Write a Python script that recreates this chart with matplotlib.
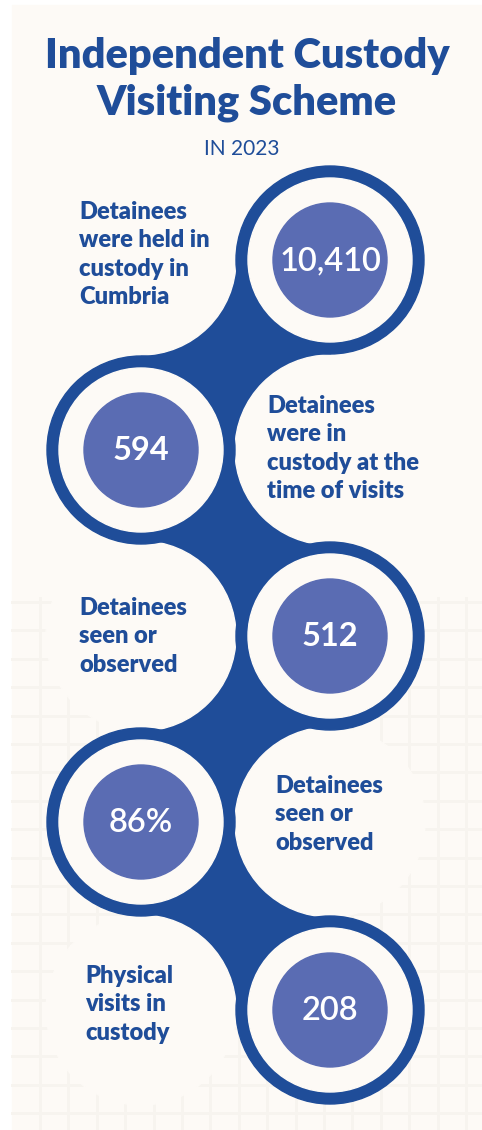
import numpy as np
import matplotlib
matplotlib.use("Agg")
import matplotlib.pyplot as plt
from matplotlib.patches import Circle, Rectangle

# ---------------------------------------------------------------------------
# Data
# ---------------------------------------------------------------------------
title_lines = ["Independent Custody", "Visiting Scheme"]
subtitle = "IN 2023"
values = ["10,410", "594", "512", "86%", "208"]
value_weights = ["semibold", "bold", "bold", "semibold", "semibold"]
labels = [
    "Detainees\nwere held in\ncustody in\nCumbria",
    "Detainees\nwere in\ncustody at the\ntime of visits",
    "Detainees\nseen or\nobserved",
    "Detainees\nseen or\nobserved",
    "Physical\nvisits in\ncustody",
]

# ---------------------------------------------------------------------------
# Style
# ---------------------------------------------------------------------------
W, H = 482, 1130
BG = "#fdfaf6"
BLUE = "#1f4d99"
FILL = "#5a6cb3"
GRID = "#f7f4ef"
FONT = ["Lato", "DejaVu Sans"]

col_x = [330, 141]          # right column, left column
row_y = [260, 450, 636, 822, 1010]
R_OUT, R_WHITE, R_FILL = 94, 82, 57

fig = plt.figure(figsize=(W / 100, H / 100), dpi=100)
ax = fig.add_axes([0, 0, 1, 1])
ax.set_xlim(0, W)
ax.set_ylim(H, 0)
ax.axis("off")
fig.patch.set_facecolor("white")

# card background
ax.add_patch(Rectangle((12, 5), W - 12, H - 5, color=BG, zorder=0))

# faint grid on the lower half
step = 28.4
for gx in np.arange(12 + 28, W, step):
    ax.plot([gx, gx], [598, H], color=GRID, lw=0.8, zorder=0.5,
            antialiased=False)
for gy in np.arange(602, H, step):
    ax.plot([12, W], [gy, gy], color=GRID, lw=0.8, zorder=0.5,
            antialiased=False)

# connectors: rectangle between consecutive centres, carved by fillet circles
centres = [(col_x[i % 2], row_y[i]) for i in range(len(values))]
for i in range(len(centres) - 1):
    (x0, y0), (x1, y1) = centres[i], centres[i + 1]
    ax.add_patch(Rectangle((min(x0, x1), y0), abs(x1 - x0), y1 - y0,
                           color=BLUE, zorder=1))
gap = abs(col_x[0] - col_x[1])
for i in range(len(centres)):
    fx = col_x[(i + 1) % 2]
    ax.add_patch(Circle((fx, row_y[i]), gap - R_OUT, color=BG, zorder=2))

# circles
for (cx, cy), v, w in zip(centres, values, value_weights):
    ax.add_patch(Circle((cx, cy), R_OUT, color=BLUE, zorder=3))
    ax.add_patch(Circle((cx, cy), R_WHITE, color=BG, zorder=4))
    ax.add_patch(Circle((cx, cy), R_FILL, color=FILL, zorder=5))
    ax.text(cx, cy + 1, v, color="white", fontsize=23.5, fontweight=w,
            ha="center", va="center", family=FONT, zorder=6)

# labels
label_pos = [(79, 201), (267, 395), (79, 597), (275, 775), (85, 965)]
for (lx, ly), t in zip(label_pos, labels):
    ax.text(lx, ly, t, color=BLUE, fontsize=17, fontweight="heavy",
            ha="left", va="top", family=FONT, linespacing=1.35, zorder=6)

# title
ax.text(247, 56, title_lines[0], color=BLUE, fontsize=30, fontweight="heavy",
        ha="center", va="center", family=FONT)
ax.text(247, 103, title_lines[1], color=BLUE, fontsize=30, fontweight="heavy",
        ha="center", va="center", family=FONT)
ax.text(242, 149, subtitle, color=BLUE, fontsize=15,
        ha="center", va="center", family=FONT)

fig.savefig("out.png", dpi=100, facecolor="white")
